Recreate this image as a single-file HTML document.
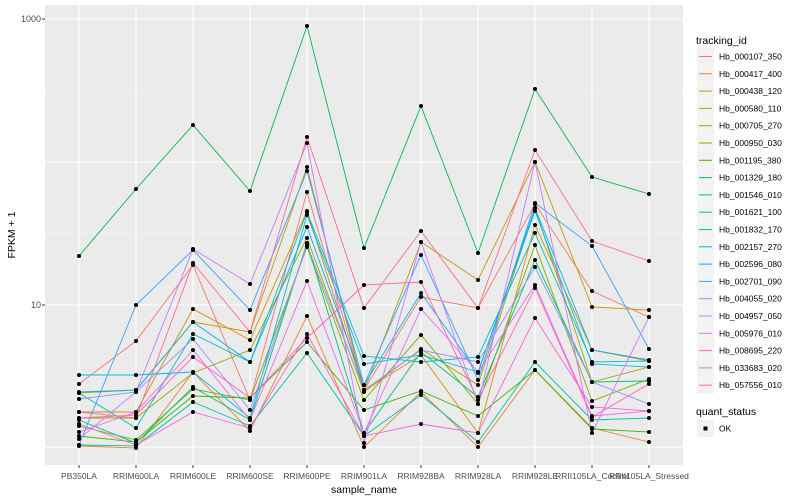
<!DOCTYPE html>
<html><head><meta charset="utf-8"><style>
body{margin:0;background:#fff}
svg{display:block;font-family:"Liberation Sans",sans-serif}
</style></head><body>
<svg id="s" width="800" height="500" xmlns="http://www.w3.org/2000/svg">
<rect x="45" y="5" width="638" height="460" fill="#EBEBEB"/>
<g stroke="#F5F5F5" stroke-width="0.6">
<line x1="45" x2="683" y1="90" y2="90"/><line x1="45" x2="683" y1="233" y2="233"/><line x1="45" x2="683" y1="376" y2="376"/>
</g>
<g id="grid" stroke="#fff" stroke-width="1.1"></g>
<g id="lines" fill="none" stroke-width="0.9"></g>
<g id="pts" fill="#000"></g>
<g font-size="9" fill="#4D4D4D" text-anchor="end">
<text x="41" y="22">1000</text><text x="41" y="308">10</text>
</g>
<g stroke="#333" stroke-width="1"><line x1="42" x2="45" y1="19" y2="19"/><line x1="42" x2="45" y1="305" y2="305"/></g>
<g id="xl" font-size="8.5" fill="#4D4D4D" text-anchor="middle"></g>
<text x="364" y="493" font-size="10.5" text-anchor="middle" fill="#000">sample_name</text>
<text transform="translate(15,235) rotate(-90)" font-size="10.5" text-anchor="middle" fill="#000">FPKM + 1</text>
<text x="696" y="44" font-size="10.5" fill="#000">tracking_id</text>
<g id="leg" font-size="8.5" fill="#000"></g>
<text x="696" y="415" font-size="10.5" fill="#000">quant_status</text>
<rect x="697" y="420" width="17" height="17" fill="#F2F2F2"/>
<rect x="703.5" y="426.5" width="4" height="4" fill="#000"/>
<text x="719" y="431.5" font-size="8.5" fill="#000">OK</text>
</svg>
<script>
const NS="http://www.w3.org/2000/svg";
const X=i=>79+57*i;
const names=["PB350LA","RRIM600LA","RRIM600LE","RRIM600SE","RRIM600PE","RRIM901LA","RRIM928BA","RRIM928LA","RRIM928LE","RRII105LA_Control","RRII105LA_Stressed"];
const ids=["Hb_000107_350","Hb_000417_400","Hb_000438_120","Hb_000580_110","Hb_000705_270","Hb_000950_030","Hb_001195_380","Hb_001329_180","Hb_001546_010","Hb_001621_100","Hb_001832_170","Hb_002157_270","Hb_002596_080","Hb_002701_090","Hb_004055_020","Hb_004957_050","Hb_005976_010","Hb_008695_220","Hb_033683_020","Hb_057556_010"];
const cols=["#F8766D","#EA8331","#D89000","#C09B00","#A3A500","#7CAE00","#39B600","#00BB4E","#00BF7D","#00C1A3","#00BFC4","#00BAE0","#00B0F6","#35A2FF","#9590FF","#C77CFF","#E76BF3","#FA62DB","#FF62BC","#FF6C91"];
const D=[
[384,341,265,400,192,390,297,308,204,291,317],
[446,448,372,431,316,447,392,447,370,428,442],
[412,412,309,340,211,391,355,433,225,350,361],
[393,390,322,332,167,391,242,280,162,307,310],
[418,418,373,350,238,392,349,385,208,382,367],
[426,440,389,400,247,400,335,404,245,401,379],
[436,442,396,398,342,410,391,416,370,429,432],
[256,189,125,191,26,248,106,253,89,177,194],
[420,443,387,420,243,433,352,397,260,382,381],
[445,446,402,426,353,436,395,442,362,420,418],
[393,428,334,362,212,356,362,357,233,362,361],
[375,375,372,418,215,364,355,372,211,364,367],
[392,390,322,362,227,385,293,373,208,350,360],
[445,305,250,310,171,385,255,380,203,246,349],
[399,392,339,410,245,390,350,362,267,382,404],
[439,392,249,284,143,443,242,404,162,433,317],
[432,412,350,420,281,433,309,372,285,416,411],
[424,445,412,428,334,436,424,433,318,407,411],
[418,415,357,398,338,285,282,400,288,417,384],
[412,418,263,332,137,308,231,308,150,241,261]];
function el(t,a,p){const e=document.createElementNS(NS,t);for(const k in a)e.setAttribute(k,a[k]);document.getElementById(p).appendChild(e);return e;}
[19,162,305,447].forEach(y=>el("line",{x1:45,x2:683,y1:y,y2:y},"grid"));
names.forEach((n,i)=>{el("line",{x1:X(i),x2:X(i),y1:5,y2:465},"grid");
 const t=el("text",{x:X(i),y:479},"xl");t.textContent=n;
 el("line",{x1:X(i),x2:X(i),y1:465,y2:468,stroke:"#333"},"xl");});
D.forEach((d,s)=>{el("polyline",{points:d.map((y,i)=>X(i)+","+y).join(" "),stroke:cols[s]},"lines");
 d.forEach((y,i)=>el("circle",{cx:X(i),cy:y,r:2},"pts"));});
ids.forEach((n,i)=>{const y=48+i*17.3;
 el("rect",{x:697,y:y,width:17,height:17,fill:"#F2F2F2"},"leg");
 el("line",{x1:699,x2:712,y1:y+8.5,y2:y+8.5,stroke:cols[i],"stroke-width":1},"leg");
 const t=el("text",{x:719,y:y+11.5},"leg");t.textContent=n;});
</script>
</body></html>
